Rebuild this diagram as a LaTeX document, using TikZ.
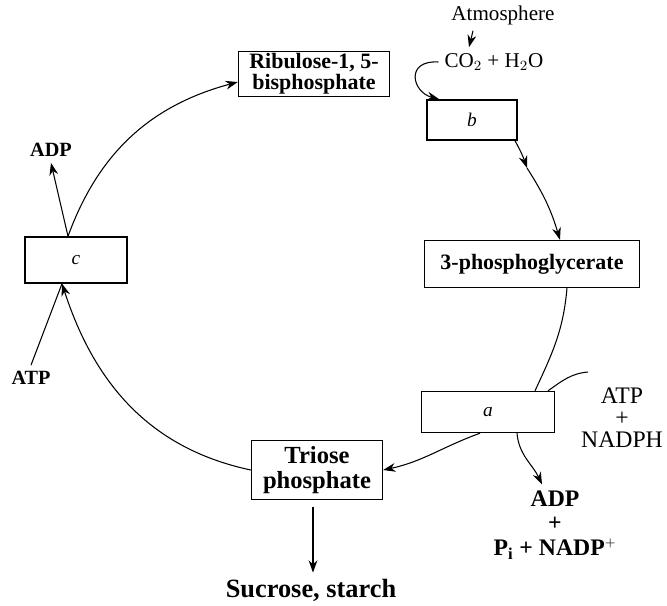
\documentclass[tikz,border=0pt]{standalone}
\usepackage{fontspec}
\setmainfont{Liberation Serif}
\usetikzlibrary{arrows.meta}
\tikzset{
  stagebox/.style={draw, thick, align=center, inner sep=1pt},
  cyc/.style={-{Stealth[length=7pt,width=5pt]}, semithick},
  link/.style={semithick},
  boldlbl/.style={font=\fontsize{12.5}{12}\selectfont\bfseries},
}
\begin{document}
\begin{tikzpicture}[x=0.02cm,y=-0.02cm]
  \useasboundingbox (0,0) rectangle (667,606);
  % the four stages and the two end products
  \node[stagebox, boldlbl, minimum width=3.02cm, minimum height=0.84cm] (rubp) at (314,74) {Ribulose-1, 5-\\bisphosphate};
  \node[stagebox, minimum width=1.8cm, minimum height=0.8cm, font=\fontsize{11}{11}\selectfont\itshape] (b) at (472,120) {b};
  \node[stagebox, boldlbl, minimum width=4.3cm, minimum height=0.94cm] (pga) at (532,264) {3-phosphoglycerate};
  \node[stagebox, minimum width=2.66cm, minimum height=0.82cm, font=\fontsize{11}{11}\selectfont\itshape] (a) at (488,412) {a};
  \node[stagebox, minimum width=2.62cm, minimum height=1.18cm, font=\fontsize{14}{14}\selectfont\bfseries] (triose) at (317,470) {Triose\\phosphate};
  \node[stagebox, minimum width=2.04cm, minimum height=0.92cm, font=\fontsize{11}{11}\selectfont\itshape] (c) at (76,260) {c};
  % side labels
  \node[font=\fontsize{12}{12}\selectfont] (atm) at (503,15) {Atmosphere};
  \node[font=\fontsize{12}{12}\selectfont] (co2) at (494,62) {CO$_2$ + H$_2$O};
  \node[font=\fontsize{11.5}{11.5}\selectfont\bfseries] (adpl) at (51,150) {ADP};
  \node[font=\fontsize{11.5}{11.5}\selectfont\bfseries] (atpl) at (31,378) {ATP};
  \node[font=\fontsize{13.5}{12.5}\selectfont, align=center] (atpn) at (622,418) {ATP\\+\\NADPH};
  \node[font=\fontsize{13.5}{14}\selectfont\bfseries, align=center] (prod) at (555,525) {ADP\\+\\P$_\mathbf{i}$ + NADP$^{\scriptscriptstyle +}$};
  \node[font=\fontsize{15}{15}\selectfont\bfseries] (sucrose) at (311,590) {Sucrose, starch};
  \coordinate (bmid) at (527,168);
  \coordinate (atpin) at (588,372);
  % the cycle
  \draw[cyc] ([xshift=-0.16cm]c.north) to[out=70,in=195] ([yshift=-0.16cm]rubp.west);
  \draw[cyc] ([xshift=-0.6cm]atm.south) -- ([xshift=-0.5cm]co2.north);
  \draw[cyc] (co2.west) .. controls (405,60) and (412,92) .. ([xshift=0.26cm]b.north west);
  \draw[cyc] ([xshift=0.86cm]b.south) to[bend left=5] (bmid);
  \draw[cyc] (bmid) to[bend left=8] ([xshift=0.56cm]pga.north);
  \draw[link] ([xshift=0.7cm]pga.south) to[out=-95,in=65] ([xshift=0.94cm]a.north);
  \draw[link] (atpin) to[out=185,in=35] ([xshift=1.2cm]a.north);
  \draw[cyc] ([xshift=0.58cm]a.south) to[out=-85,in=115] ([xshift=-0.26cm]prod.north);
  \draw[cyc] ([xshift=-0.16cm]a.south) to[out=200,in=12] (triose.east);
  \draw[cyc, shorten <=4pt] ([xshift=-0.08cm]triose.south) -- ([xshift=-0.08cm]triose.south |- sucrose.north);
  \draw[cyc] (triose.west) to[out=168,in=-72] ([xshift=-0.28cm]c.south);
  \draw[link] (atpl.north) -- ([xshift=-0.28cm]c.south);
  \draw[cyc] ([xshift=-0.16cm]c.north) -- (adpl.south);
\end{tikzpicture}
\end{document}
